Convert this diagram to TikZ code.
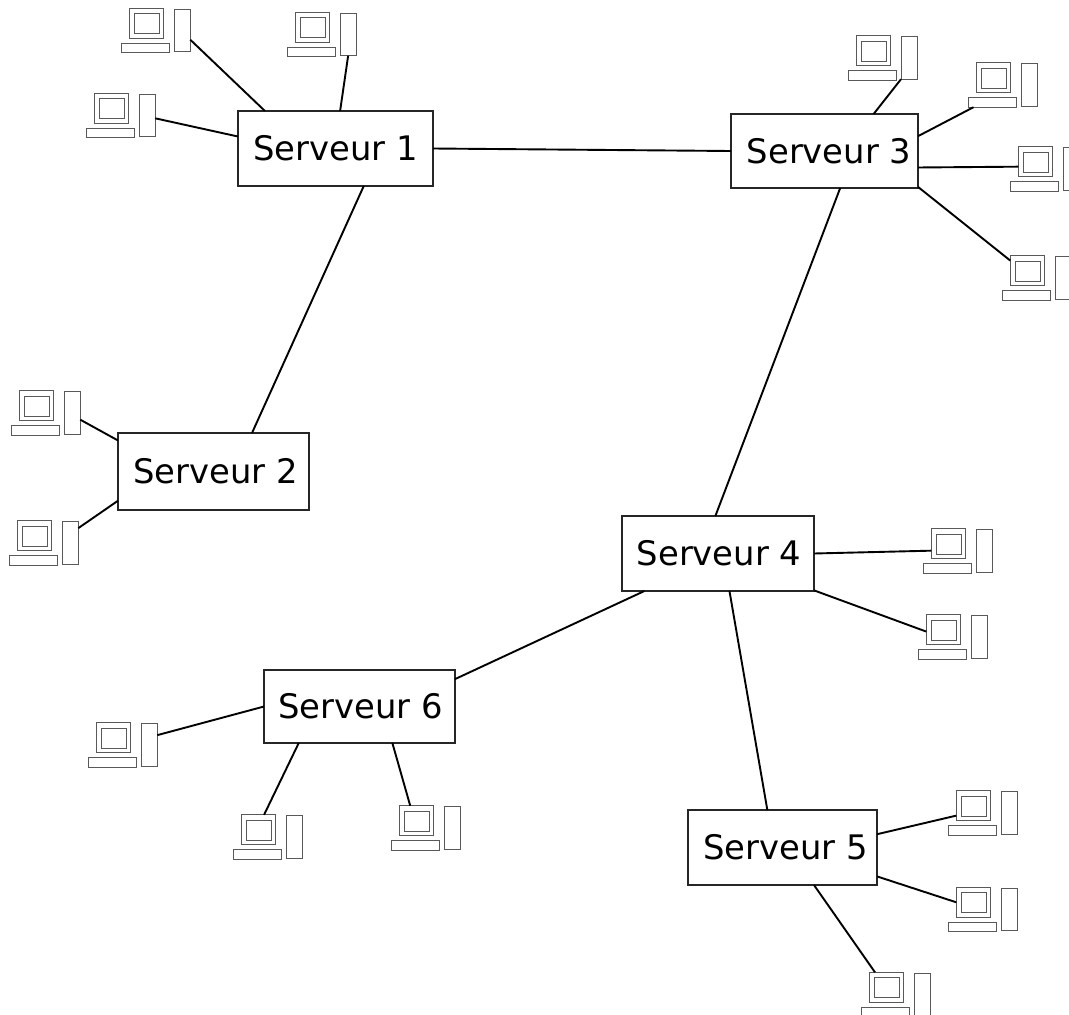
\documentclass[tikz,border=0pt]{standalone}
\usepackage{fontspec}
\setmainfont{DejaVu Sans}
\usepackage{tikz}

\begin{document}
\begin{tikzpicture}[x=1pt, y=-1pt,
		servernode/.style={rectangle, draw=black!85, fill=white, line width=1.4pt, inner sep=0pt, outer sep=0pt, font=\fontsize{33.8}{40}\selectfont},
		partnode/.style={rectangle, draw=black!65, line width=1pt, inner sep=0pt, outer sep=0pt},
		link/.style={line width=1.9pt},
		computer/.pic={
			\node[partnode, minimum width=34pt, minimum height=30pt] (-monitor) at (-9.4,-7.2) {};
			\node[partnode, minimum width=25pt, minimum height=20pt] (-screen) at (-9.2,-7) {};
			\node[partnode, minimum width=48.7pt, minimum height=9.4pt] (-keyboard) at (-10.35,17.5) {};
			\node[partnode, minimum width=16.3pt, minimum height=42.7pt] (-tower) at (26.45,-0.15) {};
		}]
		\useasboundingbox (0,0) rectangle (1069,1015);

		\node[servernode, minimum width=195pt, minimum height=75pt]	(s1) at (335.5,148.5)	{Serveur 1};
		\node[servernode, minimum width=191pt, minimum height=77pt]	(s2) at (213.5,471.5)	{\hspace*{4pt}Serveur 2};
		\node[servernode, minimum width=187pt, minimum height=74pt]	(s3) at (824.5,151)	{\hspace*{9pt}Serveur 3};
		\node[servernode, minimum width=192pt, minimum height=75pt]	(s4) at (718,553.5)	{\hspace*{2pt}Serveur 4};
		\node[servernode, minimum width=189pt, minimum height=75pt]	(s5) at (782.5,847.5)	{\hspace*{6pt}Serveur 5};
		\node[servernode, minimum width=191pt, minimum height=73pt]	(s6) at (359.5,706.5)	{\hspace*{2pt}Serveur 6};

		\pic (pc1) at (155.7,30.5) {computer};
		\pic (pc2) at (321.7,34.5) {computer};
		\pic (pc3) at (120.7,115.5) {computer};
		\pic (pc4) at (882.7,58) {computer};
		\pic (pc5) at (1002.7,85) {computer};
		\pic (pc6) at (1044.7,169) {computer};
		\pic (pc7) at (1036.7,278) {computer};
		\pic (pc8) at (45.7,413) {computer};
		\pic (pc9) at (43.7,543) {computer};
		\pic (pc10) at (957.7,551) {computer};
		\pic (pc11) at (952.7,637) {computer};
		\pic (pc12) at (122.7,745) {computer};
		\pic (pc13) at (267.7,837) {computer};
		\pic (pc14) at (425.7,828) {computer};
		\pic (pc15) at (982.7,813) {computer};
		\pic (pc16) at (982.7,909.5) {computer};
		\pic (pc17) at (895.7,994.5) {computer};

		\draw[link] (s1.0.3) -- (s3.180.6);
		\draw[link] (s1.-53.7) -- (s2.45);
		\draw[link] (s3.-67.3) -- (s4.94.6);
		\draw[link] (s4.-73.7) -- (s5.112.5);
		\draw[link] (s4.207.5) -- (s6.16.6);

		\draw[link] (pc1-tower.-49.8) -- (s1.152);
		\draw[link] (pc2-tower.south) -- (s1.83.2);
		\draw[link] (pc3-tower.-20) -- (s1.173.3);
		\draw[link] (s3.37.3) -- (pc4-tower.south west);
		\draw[link] (s3.9.1) -- (pc5-keyboard.194.4);
		\draw[link] (s3.-10.9) -- (pc6-monitor.196.4);
		\draw[link] (s3.-21.8) -- (pc7-monitor.149.5);
		\draw[link] (pc8-tower.-40.7) -- (s2.162.8);
		\draw[link] (pc9-tower.61.5) -- (s2.197.7);
		\draw[link] (s4.-0.9) -- (pc10-monitor.202.4);
		\draw[link] (s4.-21.3) -- (pc11-monitor.186.7);
		\draw[link] (pc12-tower.50.8) -- (s6.180.3);
		\draw[link] (s6.211.5) -- (pc13-monitor.69.2);
		\draw[link] (s6.-48.3) -- (pc14-monitor.112.8);
		\draw[link] (s5.8.7) -- (pc15-monitor.210.5);
		\draw[link] (s5.-17.3) -- (pc16-monitor.west);
		\draw[link] (s5.-50) -- (pc17-monitor.127);
\end{tikzpicture}
\end{document}
